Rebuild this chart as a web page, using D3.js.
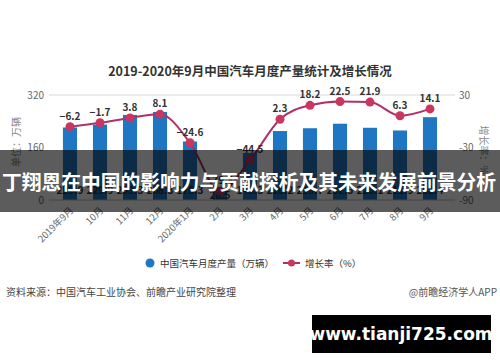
<!DOCTYPE html>
<html>
<head>
<meta charset="utf-8">
<script src="https://cdn.jsdelivr.net/npm/d3@7"></script>
<style>
  body { margin: 0; background: #fff; }
  svg { display: block; font-family: "Noto Sans CJK SC", "Noto Sans", sans-serif; }
</style>
</head>
<body>
<script>
'use strict';

const width = 500;
const height = 362;

// chart data
const months = ['2019年9月', '10月', '11月', '12月', '2020年1月', '2月', '3月', '4月', '5月', '6月', '7月', '8月', '9月'];
const output = [220.9, 229.9, 259.3, 268.3, 178.3, 28.5, 143.3, 210.2, 218.7, 232.5, 220.1, 211.9, 252.4];
const growth = [-6.2, -1.7, 3.8, 8.1, -24.6, -79.8, -44.5, 2.3, 18.2, 22.5, 21.9, 6.3, 14.1];
const leftTicks = [0, 160, 320];
const rightTicks = [-90, -30, 30];

const svg = d3.select('body').append('svg').attr('width', width).attr('height', height);

let xScale = d3.scaleBand().domain(months).range([55, 445]).paddingInner(0.53).paddingOuter(0.265);
let yLeft = d3.scaleLinear().domain([0, 320]).range([200, 95]);
let yRight = d3.scaleLinear().domain([-90, 30]).range([200, 95]);

// title
svg.append('text')
    .attr('x', 250).attr('y', 76)
    .attr('text-anchor', 'middle')
    .attr('font-size', 12.5).attr('font-weight', 'bold').attr('fill', '#333')
    .text('2019-2020年9月中国汽车月度产量统计及增长情况');

// grid line at top
svg.append('line')
    .attr('x1', 49).attr('x2', 455)
    .attr('y1', yLeft(320)).attr('y2', yLeft(320))
    .attr('stroke', '#d8d8d8');

// left axis labels
svg.append('g').selectAll('text').data(leftTicks).join('text')
    .attr('x', 44).attr('y', d => yLeft(d) + 3.5)
    .attr('text-anchor', 'end').attr('font-size', 10).attr('fill', '#666')
    .text(d => d);

// right axis labels
svg.append('g').selectAll('text').data(rightTicks).join('text')
    .attr('x', 459).attr('y', d => yRight(d) + 3.5)
    .attr('font-size', 10).attr('fill', '#666')
    .text(d => d);

// axis titles
svg.append('text')
    .attr('transform', 'translate(20,142) rotate(-90)')
    .attr('text-anchor', 'middle').attr('font-size', 10).attr('fill', '#888')
    .text('单位：万辆');
svg.append('text')
    .attr('transform', 'translate(480,150) rotate(90)')
    .attr('text-anchor', 'middle').attr('font-size', 10).attr('fill', '#888')
    .text('增长率：%');

// bars
svg.append('g').attr('fill', '#1f77c3')
    .selectAll('rect').data(output).join('rect')
    .attr('x', (d, i) => xScale(months[i]))
    .attr('width', xScale.bandwidth())
    .attr('y', d => yLeft(d))
    .attr('height', d => yLeft(0) - yLeft(d));

// baseline
svg.append('line')
    .attr('x1', 49).attr('x2', 455)
    .attr('y1', yLeft(0)).attr('y2', yLeft(0))
    .attr('stroke', '#bbb');

// bar labels, centred in the bar
svg.append('g').selectAll('text').data(output).join('text')
    .attr('x', (d, i) => xScale(months[i]) + xScale.bandwidth() / 2)
    .attr('y', d => Math.max((yLeft(d) + yLeft(0)) / 2, 190) + 4)
    .attr('text-anchor', 'middle').attr('font-size', 10).attr('font-weight', 'bold').attr('fill', '#333')
    .text(d => d.toFixed(1));

// growth line
const cx = i => xScale(months[i]) + xScale.bandwidth() / 2;
const line = d3.line()
    .x((d, i) => cx(i))
    .y(d => yRight(d))
    .curve(d3.curveMonotoneX);

svg.append('path')
    .datum(growth)
    .attr('fill', 'none').attr('stroke', '#b0306a').attr('stroke-width', 2)
    .attr('d', line);

svg.append('g').attr('fill', '#c9365f')
    .selectAll('circle').data(growth).join('circle')
    .attr('cx', (d, i) => cx(i))
    .attr('cy', d => yRight(d))
    .attr('r', 4.5);

svg.append('g').selectAll('text').data(growth).join('text')
    .attr('x', (d, i) => cx(i))
    .attr('y', d => yRight(d) - 7)
    .attr('text-anchor', 'middle').attr('font-size', 10).attr('font-weight', 'bold').attr('fill', '#333')
    .text(d => d < 0 ? '\u2212' + Math.abs(d) : d);

// x axis labels
svg.append('g').selectAll('text').data(months).join('text')
    .attr('transform', (d, i) => 'translate(' + (cx(i) + 4) + ',211) rotate(-45)')
    .attr('text-anchor', 'end').attr('font-size', 9.5).attr('fill', '#666')
    .text(d => d);

// legend
svg.append('circle').attr('cx', 150).attr('cy', 263).attr('r', 4.5).attr('fill', '#1f77c3');
svg.append('text').attr('x', 160).attr('y', 266.5).attr('font-size', 9.5).attr('fill', '#333')
    .text('中国汽车月度产量（万辆）');
svg.append('line').attr('x1', 283).attr('x2', 300).attr('y1', 263).attr('y2', 263)
    .attr('stroke', '#b0306a').attr('stroke-width', 2);
svg.append('circle').attr('cx', 291.5).attr('cy', 263).attr('r', 3.5).attr('fill', '#c9365f');
svg.append('text').attr('x', 305).attr('y', 266.5).attr('font-size', 9.5).attr('fill', '#333')
    .text('增长率（%）');

// source line
svg.append('text').attr('x', 6).attr('y', 296).attr('font-size', 10).attr('fill', '#444')
    .text('资料来源：中国汽车工业协会、前瞻产业研究院整理');
svg.append('text').attr('x', 497).attr('y', 296).attr('text-anchor', 'end').attr('font-size', 10).attr('fill', '#555')
    .text('@前瞻经济学人APP');

// overlay banner
svg.append('rect').attr('x', 0).attr('y', 150).attr('width', width).attr('height', 62)
    .attr('fill', '#000').attr('fill-opacity', 0.64);
svg.append('text')
    .attr('x', 2).attr('y', 190)
    .attr('font-size', 20.5).attr('font-weight', 'bold').attr('fill', '#fff')
    .attr('textLength', 494).attr('lengthAdjust', 'spacingAndGlyphs')
    .text('丁翔恩在中国的影响力与贡献探析及其未来发展前景分析');

// site tag
svg.append('rect').attr('x', 312).attr('y', 315).attr('width', 179).attr('height', 38).attr('fill', '#000');
svg.append('text')
    .attr('x', 401).attr('y', 340)
    .attr('text-anchor', 'middle').attr('font-size', 17).attr('font-weight', 'bold').attr('fill', '#fff')
    .attr('font-family', 'DejaVu Sans, sans-serif')
    .text('www.tianji725.com');
</script>
</body>
</html>
